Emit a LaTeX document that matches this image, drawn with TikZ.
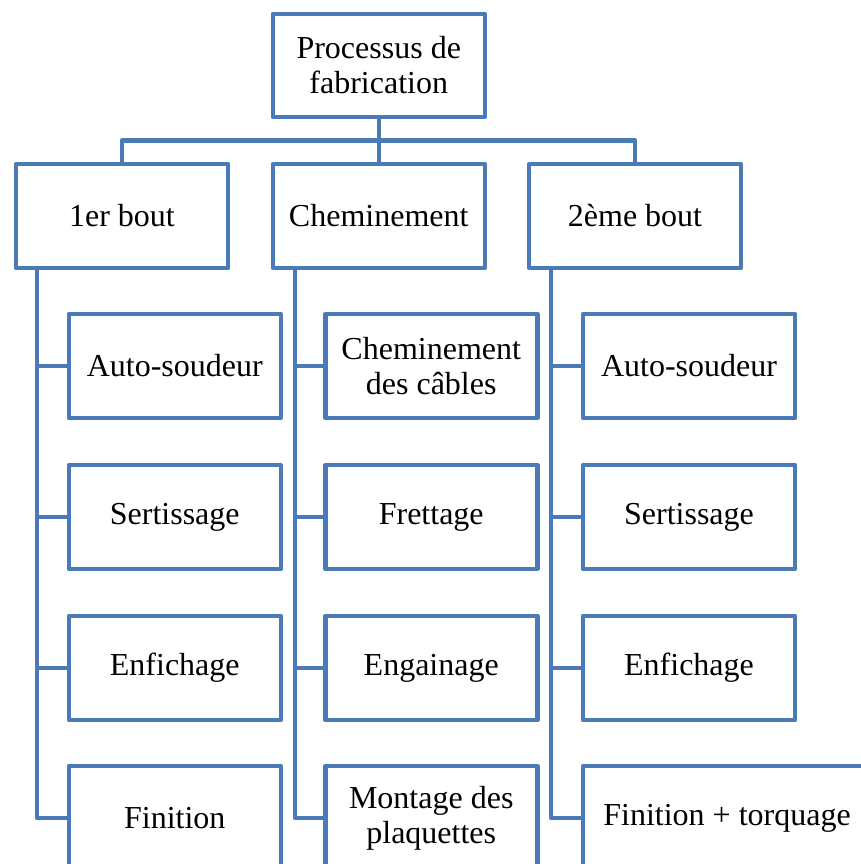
\documentclass[tikz,border=0pt]{standalone}
\usepackage{fontspec}
\setmainfont{Liberation Serif}
\definecolor{sablue}{RGB}{74,123,182}
\begin{document}
\begin{tikzpicture}[x=1pt,y=-1pt,
  box/.style={draw=sablue, line width=4.5pt, line join=round, fill=white,
    minimum width=212pt, minimum height=104pt, align=center, inner sep=0pt,
    outer sep=0pt, font=\fontsize{32}{35}\selectfont},
  conn/.style={draw=sablue, line width=4.5pt, line join=round}]
\clip (0,0) rectangle (861,864);
% level 0 and 1
\node[box, minimum height=103pt] (top) at (378.75,65.5) {Processus de\\fabrication};
\node[box] (b1) at (122,216) {1er bout};
\node[box] (b2) at (378.75,216) {Cheminement};
\node[box] (b3) at (635,216) {2ème bout};
% level 2, left column
\node[box] (c11) at (174.75,366) {Auto-soudeur};
\node[box] (c12) at (174.75,517) {Sertissage};
\node[box] (c13) at (174.75,668) {Enfichage};
\node[box] (c14) at (174.75,818) {Finition};
% middle column
\node[box] (c21) at (431.25,366) {Cheminement\\des câbles};
\node[box] (c22) at (431.25,517) {Frettage};
\node[box] (c23) at (431.25,668) {Engainage};
\node[box] (c24) at (431.25,818) {Montage des\\plaquettes};
% right column
\node[box] (c31) at (689,366) {Auto-soudeur};
\node[box] (c32) at (689,517) {Sertissage};
\node[box] (c33) at (689,668) {Enfichage};
\node[box, minimum width=288pt] (c34) at (727,818) {Finition + torquage};
% connectors
\draw[conn] (top.south) -- ++(0,23.5) coordinate (j);
\draw[conn] (j) -| (b1.north);
\draw[conn] (j) -| (b3.north);
\draw[conn] (j) -- (b2.north);
\coordinate (t1) at ([xshift=21pt]b1.south west);
\coordinate (t2) at ([xshift=22pt]b2.south west);
\coordinate (t3) at ([xshift=22pt]b3.south west);
\foreach \k in {1,2,3,4}{
  \draw[conn] (t1) |- (c1\k.west);
  \draw[conn] (t2) |- (c2\k.west);
  \draw[conn] (t3) |- (c3\k.west);
}
\end{tikzpicture}
\end{document}
